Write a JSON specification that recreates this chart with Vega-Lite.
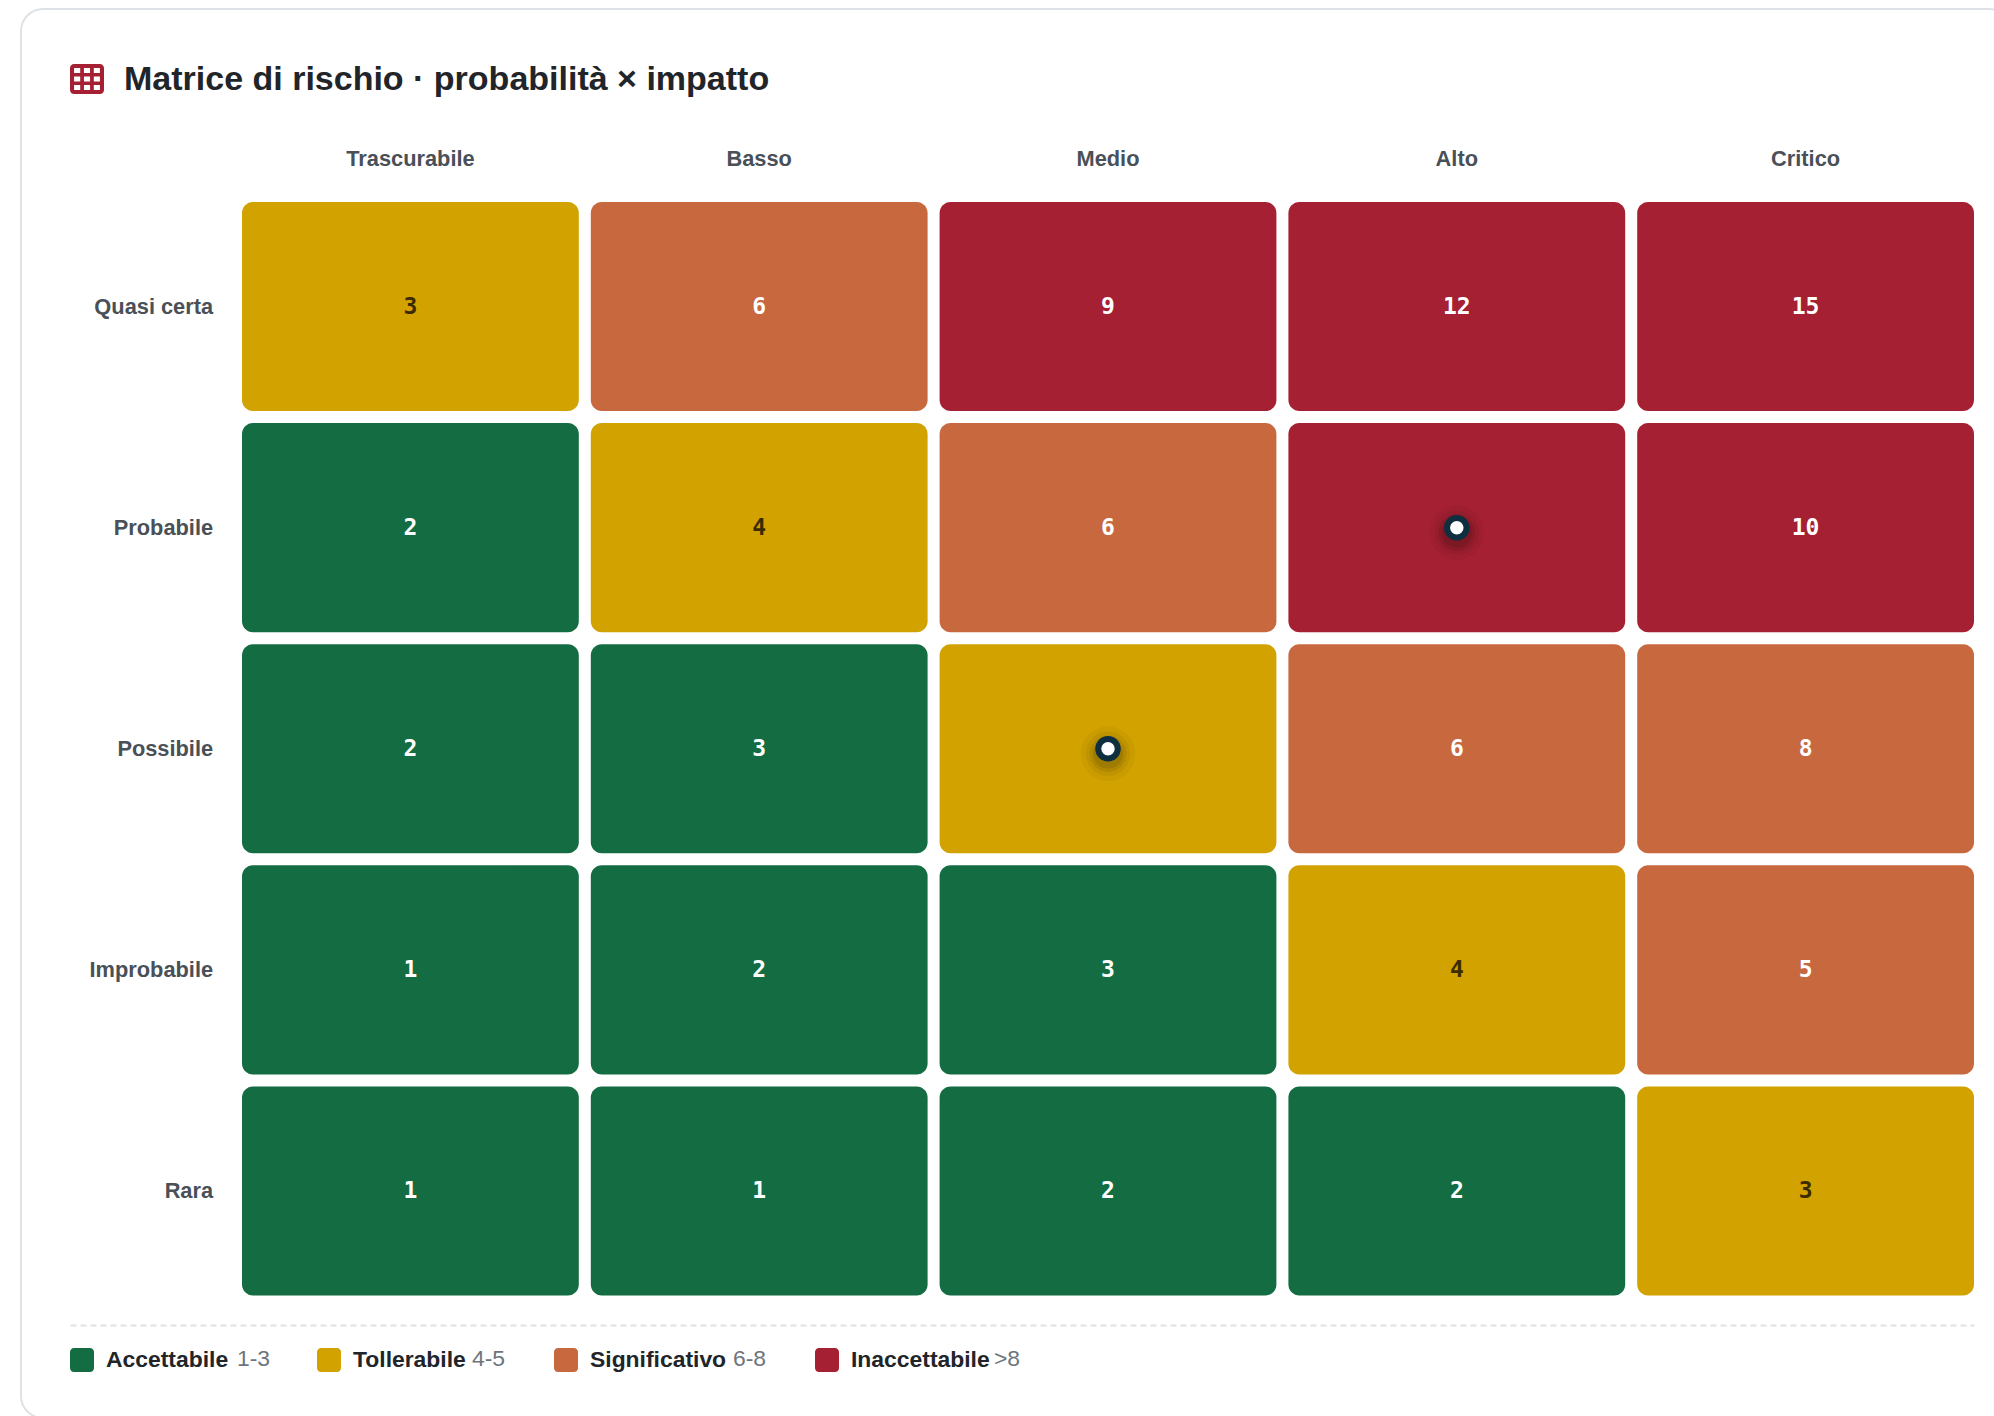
{
"$schema":"https://vega.github.io/schema/vega-lite/v6.json",
"autosize":{"type":"none"},
"padding":{"left":21,"top":9,"right":-17,"bottom":-2},
"width":1990,"height":1409,
"background":"#ffffff",
"config":{"view":{"stroke":"#dee2e6","strokeWidth":2,"cornerRadius":22}},
"title":{"text":"Matrice di rischio · probabilità × impatto","anchor":"start","frame":"group","dx":103,"offset":-87.5,"font":"Liberation Sans","fontWeight":"bold","fontSize":34,"color":"#212529"},
"datasets":{
"celle":[
{"impatto":"Trascurabile","probabilita":"Quasi certa","punteggio":3,"livello":"Tollerabile"},
{"impatto":"Basso","probabilita":"Quasi certa","punteggio":6,"livello":"Significativo"},
{"impatto":"Medio","probabilita":"Quasi certa","punteggio":9,"livello":"Inaccettabile"},
{"impatto":"Alto","probabilita":"Quasi certa","punteggio":12,"livello":"Inaccettabile"},
{"impatto":"Critico","probabilita":"Quasi certa","punteggio":15,"livello":"Inaccettabile"},
{"impatto":"Trascurabile","probabilita":"Probabile","punteggio":2,"livello":"Accettabile"},
{"impatto":"Basso","probabilita":"Probabile","punteggio":4,"livello":"Tollerabile"},
{"impatto":"Medio","probabilita":"Probabile","punteggio":6,"livello":"Significativo"},
{"impatto":"Alto","probabilita":"Probabile","punteggio":null,"livello":"Inaccettabile","rischio":true},
{"impatto":"Critico","probabilita":"Probabile","punteggio":10,"livello":"Inaccettabile"},
{"impatto":"Trascurabile","probabilita":"Possibile","punteggio":2,"livello":"Accettabile"},
{"impatto":"Basso","probabilita":"Possibile","punteggio":3,"livello":"Accettabile"},
{"impatto":"Medio","probabilita":"Possibile","punteggio":null,"livello":"Tollerabile","rischio":true},
{"impatto":"Alto","probabilita":"Possibile","punteggio":6,"livello":"Significativo"},
{"impatto":"Critico","probabilita":"Possibile","punteggio":8,"livello":"Significativo"},
{"impatto":"Trascurabile","probabilita":"Improbabile","punteggio":1,"livello":"Accettabile"},
{"impatto":"Basso","probabilita":"Improbabile","punteggio":2,"livello":"Accettabile"},
{"impatto":"Medio","probabilita":"Improbabile","punteggio":3,"livello":"Accettabile"},
{"impatto":"Alto","probabilita":"Improbabile","punteggio":4,"livello":"Tollerabile"},
{"impatto":"Critico","probabilita":"Improbabile","punteggio":5,"livello":"Significativo"},
{"impatto":"Trascurabile","probabilita":"Rara","punteggio":1,"livello":"Accettabile"},
{"impatto":"Basso","probabilita":"Rara","punteggio":1,"livello":"Accettabile"},
{"impatto":"Medio","probabilita":"Rara","punteggio":2,"livello":"Accettabile"},
{"impatto":"Alto","probabilita":"Rara","punteggio":2,"livello":"Accettabile"},
{"impatto":"Critico","probabilita":"Rara","punteggio":3,"livello":"Tollerabile"}
],
"livelli":[
{"livello":"Accettabile","intervallo":"1-3"},
{"livello":"Tollerabile","intervallo":"4-5"},
{"livello":"Significativo","intervallo":"6-8"},
{"livello":"Inaccettabile","intervallo":">8"}
],
"icona":[{"icona":"Matrice"}]
},
"resolve":{"scale":{"x":"independent"},"axis":{"x":"independent"}},
"layer":[
{
"data":{"name":"celle"},
"encoding":{
"x":{"field":"impatto","type":"nominal","sort":null,
"scale":{"type":"band","domain":["Trascurabile","Basso","Medio","Alto","Critico"],"range":[221,1953],"paddingInner":0.0344,"paddingOuter":0},
"axis":{"orient":"top","title":null,"offset":-149,"domain":false,"ticks":false,"grid":false,"labelPadding":0,"labelAngle":0,"labelBaseline":"middle","labelFont":"Liberation Sans","labelFontWeight":"bold","labelFontSize":21.8,"labelColor":"#495057"}},
"y":{"field":"probabilita","type":"nominal","sort":null,
"scale":{"type":"band","domain":["Quasi certa","Probabile","Possibile","Improbabile","Rara"],"range":[193,1286.5],"paddingInner":0.0543,"paddingOuter":0},
"axis":{"orient":"left","title":null,"offset":-191.6,"domain":false,"ticks":false,"grid":false,"labelPadding":0,"labelFont":"Liberation Sans","labelFontWeight":"bold","labelFontSize":21.8,"labelColor":"#495057"}}
},
"layer":[
{"mark":{"type":"rect","cornerRadius":11},
"encoding":{"color":{"field":"livello","type":"nominal",
"scale":{"domain":["Accettabile","Tollerabile","Significativo","Inaccettabile"],"range":["#146c43","#d1a200","#c8683f","#a52032"]},
"legend":{"orient":"none","legendX":49,"legendY":1339,"direction":"horizontal","columns":4,"gridAlign":"none","title":null,"padding":0,"columnPadding":88,"symbolType":"M-0.66,-1H0.66A0.34,0.34 0 0 1 1,-0.66V0.66A0.34,0.34 0 0 1 0.66,1H-0.66A0.34,0.34 0 0 1 -1,0.66V-0.66A0.34,0.34 0 0 1 -0.66,-1Z","symbolSize":576,"symbolStrokeWidth":0,"symbolOpacity":1,"labelOffset":12,"labelFont":"Liberation Sans","labelFontWeight":"bold","labelFontSize":22.9,"labelColor":"#212529"}}}},
{"transform":[{"filter":"datum.punteggio != null"}],
"mark":{"type":"text","font":"DejaVu Sans Mono","fontWeight":"bold","fontSize":23,"baseline":"middle"},
"encoding":{"text":{"field":"punteggio","type":"quantitative"},
"color":{"condition":{"test":"datum.livello === 'Tollerabile'","value":"#3d2b00"},"value":"#ffffff"}}},
{"transform":[{"filter":"datum.rischio === true"}],
"mark":{"type":"point","filled":true,"color":"#000000","opacity":0.03,"size":3000,"yOffset":5}},
{"transform":[{"filter":"datum.rischio === true"}],
"mark":{"type":"point","filled":true,"color":"#000000","opacity":0.05,"size":2000,"yOffset":5}},
{"transform":[{"filter":"datum.rischio === true"}],
"mark":{"type":"point","filled":true,"color":"#000000","opacity":0.07,"size":1350,"yOffset":5}},
{"transform":[{"filter":"datum.rischio === true"}],
"mark":{"type":"point","filled":true,"color":"#000000","opacity":0.1,"size":900,"yOffset":5}},
{"transform":[{"filter":"datum.rischio === true"}],
"mark":{"type":"point","filled":true,"fill":"#ffffff","stroke":"#0d2f40","strokeWidth":6,"opacity":1,"size":380}}
]
},
{
"data":{"name":"livelli"},
"mark":{"type":"point","opacity":0,"filled":true},
"encoding":{
"x":{"field":"intervallo","type":"nominal","scale":{"type":"point","range":[49,1953]},
"axis":{"orient":"bottom","title":null,"offset":-93,"domainColor":"#dee2e6","domainWidth":2,"domainDash":[6,4],"ticks":false,"labels":false,"grid":false}},
"strokeDash":{"field":"intervallo","type":"nominal","scale":{"domain":["1-3","4-5","6-8",">8"],"range":[[1,0],[1,0],[1,0],[1,0]]},
"legend":{"orient":"none","legendX":193,"legendY":1339,"direction":"horizontal","columns":4,"gridAlign":"none","title":null,"padding":0,"columnPadding":179,"symbolSize":1,"symbolOpacity":0,"symbolStrokeColor":"transparent","labelOffset":0,"labelFont":"Liberation Sans","labelFontSize":22.9,"labelColor":"#6c757d",
"labelExpr":"datum.label === '4-5' || datum.label === '6-8' ? datum.label + '\u00a0\u00a0\u00a0\u00a0\u200b' : datum.label"}}
}
},
{
"data":{"name":"icona"},
"mark":{"type":"point","opacity":0,"filled":true,"color":"#a52032"},
"encoding":{
"shape":{"field":"icona","type":"nominal","scale":{"domain":["Matrice"],"range":["M-0.76,-0.88H0.76A0.24,0.24 0 0 1 1,-0.64V0.64A0.24,0.24 0 0 1 0.76,0.88H-0.76A0.24,0.24 0 0 1 -1,0.64V-0.64A0.24,0.24 0 0 1 -0.76,-0.88ZM-0.76,-0.64V-0.36H-0.4V-0.64ZM-0.18,-0.64V-0.36H0.18V-0.64ZM0.4,-0.64V-0.36H0.76V-0.64ZM-0.76,-0.14V0.14H-0.4V-0.14ZM-0.18,-0.14V0.14H0.18V-0.14ZM0.4,-0.14V0.14H0.76V-0.14ZM-0.76,0.36V0.64H-0.4V0.36ZM-0.18,0.36V0.64H0.18V0.36ZM0.4,0.36V0.64H0.76V0.36Z"]},
"legend":{"orient":"none","legendX":49,"legendY":53,"title":null,"padding":0,"symbolSize":1156,"symbolFillColor":"#a52032","symbolOpacity":1,"symbolStrokeWidth":0,"labels":false,"labelFontSize":1,"labelOpacity":0}}
}
}
]
}
